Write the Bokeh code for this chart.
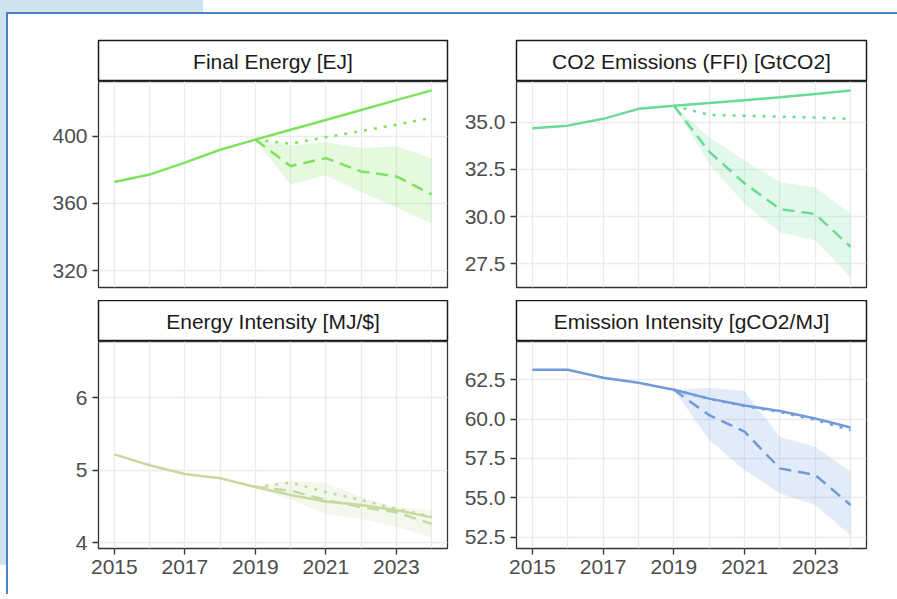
from bokeh.plotting import figure
from bokeh.models import Range1d, FixedTicker, PrintfTickFormatter, Grid, Label, Div
from bokeh.layouts import column, row
from bokeh.embed import file_html
from bokeh.resources import INLINE

years = [2015, 2016, 2017, 2018, 2019, 2020, 2021, 2022, 2023, 2024]
scen_years = [2019, 2020, 2021, 2022, 2023, 2024]
x_label_years = [2015, 2017, 2019, 2021, 2023]

titles = ["Final Energy [EJ]", "CO2 Emissions (FFI) [GtCO2]",
          "Energy Intensity [MJ/$]", "Emission Intensity [gCO2/MJ]"]
colors = ["#7CE35C", "#6ADB94", "#C8D8A0", "#6F9BDA"]

fe_ref = [372.7, 377.1, 384.2, 391.9, 397.9, 403.8, 409.6, 415.5, 421.4, 427.2]
fe_dot = [397.9, 395.5, 399.4, 403.0, 406.8, 410.9]
fe_dash = [397.9, 382.2, 386.9, 379.0, 376.0, 365.3]
fe_hi = [397.9, 394.5, 396.4, 392.9, 393.9, 386.6]
fe_lo = [397.9, 371.3, 376.6, 366.7, 357.8, 347.9]

co_ref = [34.68, 34.82, 35.18, 35.71, 35.88, 36.02, 36.17, 36.32, 36.50, 36.68]
co_dot = [35.88, 35.39, 35.34, 35.30, 35.25, 35.18]
co_dash = [35.88, 33.44, 31.76, 30.40, 30.13, 28.40]
co_hi = [35.88, 34.20, 32.97, 31.82, 31.55, 30.14]
co_lo = [35.88, 32.80, 30.68, 29.17, 28.73, 26.79]

ei_ref = [5.22, 5.07, 4.95, 4.89, 4.77, 4.66, 4.57, 4.52, 4.45, 4.35]
ei_dot = [4.77, 4.83, 4.70, 4.59, 4.47, 4.36]
ei_dash = [4.77, 4.72, 4.59, 4.49, 4.42, 4.26]
ei_hi = [4.77, 4.86, 4.82, 4.63, 4.49, 4.45]
ei_lo = [4.77, 4.59, 4.40, 4.33, 4.22, 4.08]

em_ref = [63.14, 63.14, 62.63, 62.31, 61.86, 61.30, 60.87, 60.51, 60.04, 59.47]
em_dot = [61.86, 61.28, 60.83, 60.45, 59.95, 59.30]
em_dash = [61.86, 60.25, 59.20, 56.87, 56.45, 54.54]
em_hi = [61.86, 61.99, 61.78, 58.87, 58.24, 56.65]
em_lo = [61.86, 58.68, 56.77, 55.28, 54.54, 52.60]

y_ticks = [[320, 360, 400], [27.5, 30.0, 32.5, 35.0], [4, 5, 6],
           [52.5, 55.0, 57.5, 60.0, 62.5]]
y_fmt = ["%d", "%.1f", "%d", "%.1f"]
y_ranges = [(309.9, 432.5), (26.24, 37.16), (3.92, 6.78), (51.78, 64.93)]
x_range = (2014.55, 2024.45)

series = [
    (fe_ref, fe_dot, fe_dash, fe_hi, fe_lo),
    (co_ref, co_dot, co_dash, co_hi, co_lo),
    (ei_ref, ei_dot, ei_dash, ei_hi, ei_lo),
    (em_ref, em_dot, em_dash, em_hi, em_lo),
]

FONT = "Liberation Sans"
GRID = "#EBEBEB"

# geometry: [width, min_border_left, min_border_right]
col_geom = [(447, 90, 8), (434, 61, 23)]


def make_strip(i, height, top):
    w, bl, br = col_geom[i % 2]
    s = figure(width=w, height=height, min_border_left=bl, min_border_right=br,
               min_border_top=top, min_border_bottom=0,
               x_range=Range1d(0, 1), y_range=Range1d(0, 1),
               x_axis_location=None, y_axis_location=None,
               toolbar_location=None, output_backend="svg")
    s.grid.visible = False
    s.background_fill_color = "white"
    s.border_fill_color = "white"
    s.outline_line_color = "#1A1A1A"
    s.outline_line_width = 1.5
    s.add_layout(Label(x=0.5, y=0.5, text=titles[i], text_align="center",
                       text_baseline="middle", text_font=FONT,
                       text_font_size="21px", text_color="#1A1A1A"))
    return s


def make_panel(i, height, bottom, show_x):
    w, bl, br = col_geom[i % 2]
    p = figure(width=w, height=height, min_border_left=bl, min_border_right=br,
               min_border_top=0, min_border_bottom=bottom,
               x_range=Range1d(*x_range), y_range=Range1d(*y_ranges[i]),
               x_axis_location="below" if show_x else None,
               toolbar_location=None, output_backend="svg")
    p.background_fill_color = "white"
    p.border_fill_color = "white"
    p.outline_line_color = "#333333"
    p.outline_line_width = 1.3
    p.xgrid.visible = False
    p.add_layout(Grid(dimension=0, ticker=FixedTicker(ticks=years),
                      grid_line_color=GRID, grid_line_width=1.3))
    p.ygrid.grid_line_color = GRID
    p.ygrid.grid_line_width = 1.3
    axes = list(p.yaxis) + (list(p.xaxis) if show_x else [])
    p.yaxis.ticker = FixedTicker(ticks=y_ticks[i])
    p.yaxis.formatter = PrintfTickFormatter(format=y_fmt[i])
    if show_x:
        p.xaxis.ticker = FixedTicker(ticks=x_label_years)
    for ax in axes:
        ax.axis_line_color = None
        ax.major_tick_line_color = "#333333"
        ax.major_tick_line_width = 1.3
        ax.major_tick_out = 6
        ax.major_tick_in = 0
        ax.minor_tick_line_color = None
        ax.major_label_text_font = FONT
        ax.major_label_text_font_size = "21px"
        ax.major_label_text_color = "#4D4D4D"
        ax.major_label_standoff = 5
    ref, dot, dash, hi, lo = series[i]
    c = colors[i]
    p.varea(x=scen_years, y1=lo, y2=hi, fill_color=c, fill_alpha=0.2)
    p.line(scen_years, dot, line_color=c, line_width=2.5, line_dash="3 7")
    p.line(scen_years, dash, line_color=c, line_width=2.5, line_dash="12 7")
    p.line(years, ref, line_color=c, line_width=2.5)
    return p


strip1 = make_strip(0, 67, 26)
strip2 = make_strip(1, 67, 26)
p1 = make_panel(0, 219, 13, False)
p2 = make_panel(1, 219, 13, False)
strip3 = make_strip(2, 41, 0)
strip4 = make_strip(3, 41, 0)
p3 = make_panel(2, 250, 43, True)
p4 = make_panel(3, 250, 43, True)

grid = column(row(strip1, strip2, spacing=0), row(p1, p2, spacing=0),
              row(strip3, strip4, spacing=0), row(p3, p4, spacing=0), spacing=0)

BLUE = "#4A83C2"
LIGHT = "#CFE2EE"


def bar(w, h, color):
    return Div(text="", width=w, height=h, margin=0,
               styles={"background-color": color, "line-height": "0",
                       "font-size": "0", "padding": "0", "overflow": "hidden"})


top_band = row(bar(203, 12, LIGHT), bar(688, 12, "#FFFFFF"), spacing=0)
left_band = column(bar(6, 553, LIGHT), bar(6, 26, "#FFFFFF"), spacing=0)
framed = column(bar(891, 2, BLUE),
                row(bar(2, 580, BLUE), grid, bar(8, 580, "#FFFFFF"), spacing=0),
                spacing=0)

root = column(top_band, row(left_band, framed, spacing=0), spacing=0)

open("out.html", "w").write(file_html(root, INLINE))
